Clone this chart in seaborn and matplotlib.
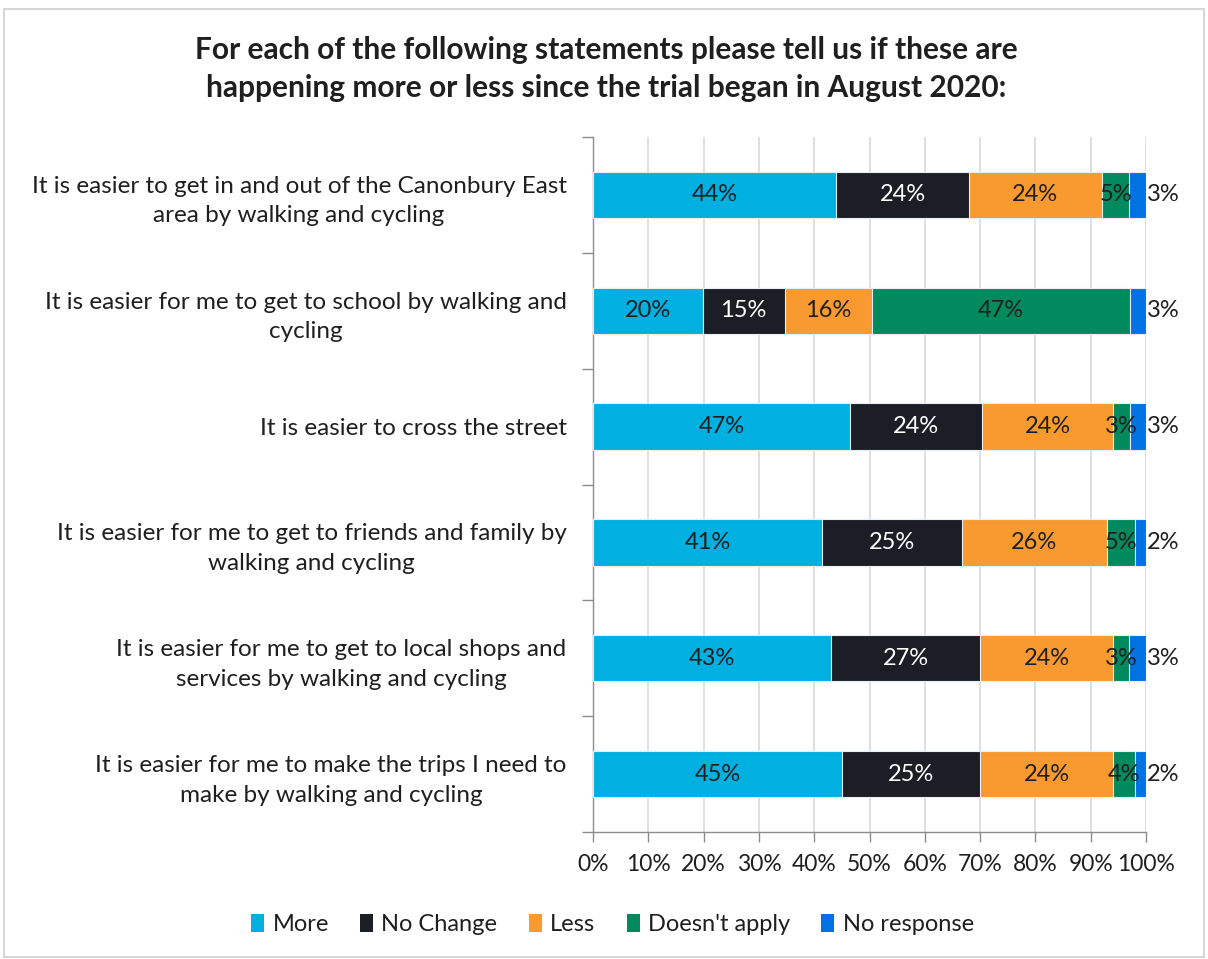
import matplotlib
matplotlib.use("Agg")
import matplotlib.pyplot as plt
from matplotlib.patches import Patch, Rectangle
from matplotlib.ticker import MultipleLocator, FixedLocator, PercentFormatter
import numpy as np
import pandas as pd
import seaborn as sns

# Survey statements (top to bottom)
statements = [
    "It is easier to get in and out of the Canonbury East\narea by walking and cycling",
    "It is easier for me to get to school by walking and\ncycling",
    "It is easier to cross the street",
    "It is easier for me to get to friends and family by\nwalking and cycling",
    "It is easier for me to get to local shops and\nservices by walking and cycling",
    "It is easier for me to make the trips I need to\nmake by walking and cycling",
]

# Response shares (%) for each statement
more = [44, 20, 47, 41, 43, 45]
no_change = [24, 15, 24, 25, 27, 25]
less = [24, 16, 24, 26, 24, 24]
doesnt_apply = [5, 47, 3, 5, 3, 4]
no_response = [3, 3, 3, 2, 3, 2]

series_names = ["More", "No Change", "Less", "Doesn't apply", "No response"]
series_values = [more, no_change, less, doesnt_apply, no_response]
colors = ["#00B0E0", "#1B1E25", "#F89A2F", "#008A5E", "#0072E3"]
text_colors = ["#1F1F1F", "white", "#1F1F1F", "#1F1F1F", "#1F1F1F"]

sns.set_theme(style="white")
plt.rcParams["font.family"] = ["Lato", "DejaVu Sans"]

# 100% stacked: normalise each statement to its row total
vals = np.array(series_values, dtype=float)
shares = vals / vals.sum(axis=0) * 100
cum = np.cumsum(shares, axis=0)

df = pd.DataFrame({"statement": statements})
for i, name in enumerate(series_names):
    df[name] = cum[i]

fig = plt.figure(figsize=(12.08, 9.59), dpi=100)
ax = fig.add_axes([0.4909, 0.1324, 0.4578, 0.7247])

# Draw cumulative bars from the full length down to the first segment
for i in range(len(series_names) - 1, -1, -1):
    sns.barplot(data=df, x=series_names[i], y="statement", orient="h",
                color=colors[i], saturation=1, width=0.4,
                edgecolor="#E8EEF4", linewidth=0.8, ax=ax, zorder=3)

# Segment value labels
for r in range(len(statements)):
    for i in range(len(series_names)):
        start = cum[i - 1][r] if i > 0 else 0.0
        end = cum[i][r]
        label = f"{series_values[i][r]}%"
        if i == len(series_names) - 1:
            ax.text(100.2, r, label, ha="left", va="center", fontsize=17,
                    color="#1F1F1F", zorder=5, clip_on=False)
        else:
            ax.text((start + end) / 2, r, label, ha="center", va="center",
                    fontsize=17, color=text_colors[i], zorder=5)

ax.set_xlim(0, 100)
ax.set_ylim(len(statements) - 0.5, -0.5)
ax.xaxis.set_major_locator(MultipleLocator(10))
ax.xaxis.set_major_formatter(PercentFormatter(decimals=0))
ax.grid(axis="x", color="#D9D9D9", linewidth=1.2, zorder=0)
ax.grid(axis="y", visible=False)
ax.set_axisbelow(True)
ax.set_xlabel("")
ax.set_ylabel("")

for side in ["top", "right"]:
    ax.spines[side].set_visible(False)
for side in ["left", "bottom"]:
    ax.spines[side].set_visible(True)
    ax.spines[side].set_color("#8C8C8C")
    ax.spines[side].set_linewidth(1.0)

ax.tick_params(axis="x", which="major", direction="out", length=7, width=1,
               color="#8C8C8C", labelsize=16.5, labelcolor="#1F1F1F", pad=9, bottom=True)
ax.yaxis.set_minor_locator(FixedLocator(np.arange(-0.5, len(statements), 1.0)))
ax.tick_params(axis="y", which="minor", direction="out", length=8, width=1,
               color="#8C8C8C", left=True)
ax.tick_params(axis="y", which="major", length=0, pad=19, labelsize=17.5,
               labelcolor="#1F1F1F")
for t in ax.get_yticklabels():
    t.set_multialignment("center")
    t.set_linespacing(1.5)

fig.text(0.502, 0.928,
         "For each of the following statements please tell us if these are\n"
         "happening more or less since the trial began in August 2020:",
         ha="center", va="center", fontsize=21.5, fontweight="bold",
         color="#1F1F1F", linespacing=1.45)

handles = [Patch(facecolor=c, edgecolor="none") for c in colors]
fig.legend(handles, series_names, loc="center", bbox_to_anchor=(0.507, 0.036),
           ncol=5, frameon=False, fontsize=17, handlelength=0.55, handleheight=0.8,
           handletextpad=0.35, columnspacing=1.33, labelcolor="#1F1F1F")

fig.add_artist(Rectangle((0.003, 0.002), 0.994, 0.989, transform=fig.transFigure,
                         fill=False, edgecolor="#D0D0D0", linewidth=1.2))

fig.savefig("out.png", dpi=100, facecolor="white")
